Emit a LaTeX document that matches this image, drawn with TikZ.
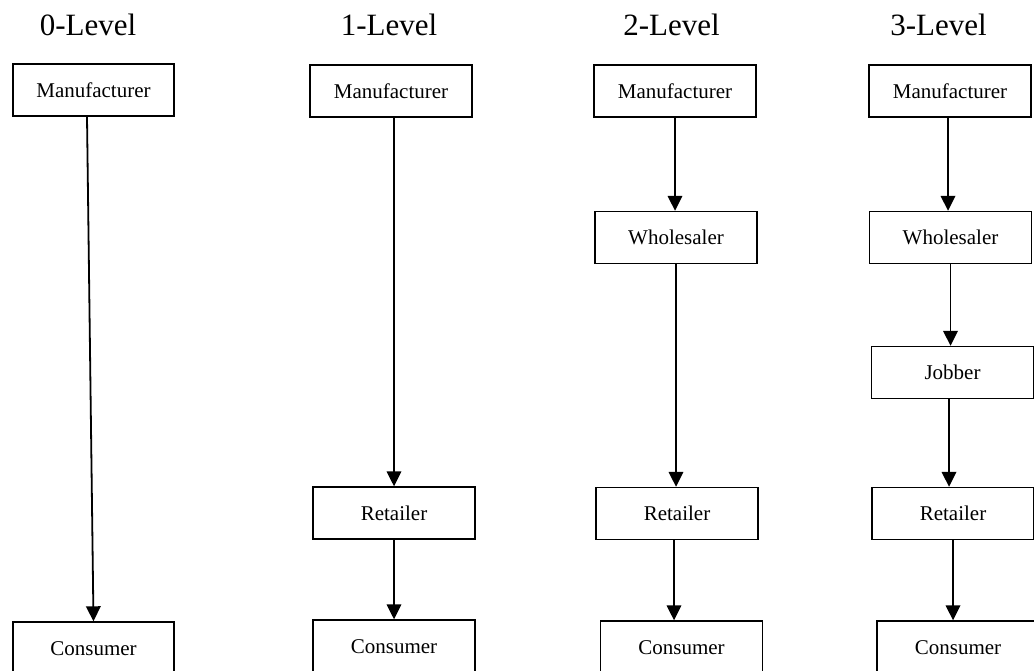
\documentclass[tikz,border=0pt]{standalone}
\usepackage{fontspec}
\setmainfont{Liberation Serif}
\usetikzlibrary{arrows.meta}

\tikzset{
  stage/.style={draw, line width=1.4pt, minimum width=162pt, minimum height=52pt,
    inner sep=0pt, font=\fontsize{21pt}{24pt}\selectfont, text height=14pt, text depth=0pt},
  title/.style={anchor=base, inner sep=0pt, font=\fontsize{31pt}{36pt}\selectfont},
  flow/.style={line width=1.8pt, -{Triangle[length=15pt,width=14.5pt]}},
}

\begin{document}
\begin{tikzpicture}[x=1pt, y=-1pt]
  \useasboundingbox (0,0) rectangle (1034,670);
  \clip (0,0) rectangle (1034,670);
  \fill[white] (0,0) rectangle (1034,670);

  % column headings
  \node[title] (t0) at (88,35)    {0-Level};
  \node[title] (t1) at (389,35)   {1-Level};
  \node[title] (t2) at (671.5,35) {2-Level};
  \node[title] (t3) at (938.5,35) {3-Level};

  % 0-level channel
  \node[stage, minimum width=161pt] (m0) at (93.5,90) {Manufacturer};
  \node[stage, minimum width=161pt] (c0) at (93.5,648) {Consumer};
  \draw[flow] ([xshift=-6.5pt]m0.south) -- (c0.north);

  % 1-level channel
  \node[stage] (m1) at (391,91)  {Manufacturer};
  \node[stage] (r1) at (394,513) {Retailer};
  \node[stage] (c1) at (394,646) {Consumer};
  \draw[flow] (m1.south -| r1.north) -- (r1.north);
  \draw[flow] (r1.south) -- (c1.north);

  % 2-level channel
  \node[stage] (m2) at (675,91)    {Manufacturer};
  \node[stage] (w2) at (676,237.5) {Wholesaler};
  \node[stage] (r2) at (677,513.5) {Retailer};
  \node[stage] (c2) at (681.5,647) {Consumer};
  \draw[flow] (m2.south) -- (m2.south |- w2.north);
  \draw[flow] (w2.south) -- (w2.south |- r2.north);
  \draw[flow] ([xshift=-3pt]r2.south) -- ([xshift=-3pt]r2.south |- c2.north);

  % 3-level channel
  \node[stage] (m3) at (950,91)    {Manufacturer};
  \node[stage] (w3) at (950.5,237.5) {Wholesaler};
  \node[stage] (j3) at (952.5,372.5) {Jobber};
  \node[stage] (r3) at (953,513.5) {Retailer};
  \node[stage] (c3) at (958,647)   {Consumer};
  \draw[flow] ([xshift=-2pt]m3.south) -- ([xshift=-2pt]m3.south |- w3.north);
  \draw[flow] (w3.south) -- (w3.south |- j3.north);
  \draw[flow] ([xshift=-3.5pt]j3.south) -- ([xshift=-3.5pt]j3.south |- r3.north);
  \draw[flow] (r3.south) -- (r3.south |- c3.north);
\end{tikzpicture}
\end{document}
